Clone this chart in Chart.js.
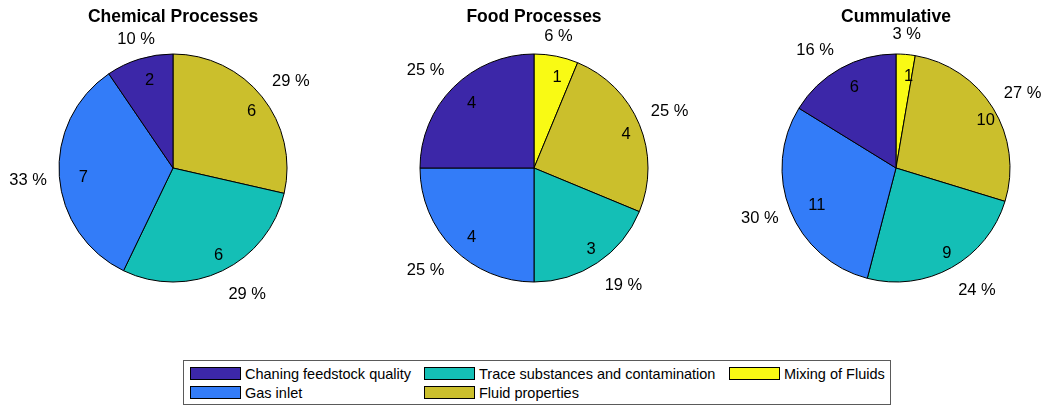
<!DOCTYPE html>
<html>
<head>
<meta charset="utf-8">
<script src="https://cdn.jsdelivr.net/npm/chart.js@4.4.1/dist/chart.umd.min.js"></script>
<style>
  html, body { margin: 0; padding: 0; background: #fff; overflow: hidden; }
  #wrap { position: relative; width: 1047px; height: 406px; overflow: hidden; font-family: "Liberation Sans", Helvetica, Arial, sans-serif; }
  #wrap canvas { position: absolute; top: 0; }
  #legend { position: absolute; left: 183px; top: 360px; width: 706px; height: 43px; border: 1px solid #5a5a5a; background: #fff; }
  .li { position: absolute; font-size: 14.5px; color: #000; white-space: nowrap; line-height: 16px; }
  .sw { position: absolute; width: 49px; height: 11px; border: 1px solid #000; }
</style>
</head>
<body>
<div id="wrap">
  <canvas id="c-chem" width="346" height="310"></canvas>
  <canvas id="c-food" width="346" height="310"></canvas>
  <canvas id="c-cum" width="346" height="310"></canvas>
  <div id="legend"></div>
</div>
<script>
// Categories in MATLAB order (pie runs counter-clockwise from 12 o'clock).
const CATEGORIES = ['Chaning feedstock quality', 'Gas inlet', 'Trace substances and contamination', 'Fluid properties', 'Mixing of Fluids'];
const COLORS = ['#3c27a8', '#337cf8', '#14bfb6', '#cbbf2c', '#f9fa14'];
const CHEMICAL = [2, 7, 6, 6, 0];
const FOOD = [4, 4, 3, 4, 1];
const CUMULATIVE = [6, 11, 9, 10, 1];
const TITLES = ['Chemical Processes', 'Food Processes', 'Cummulative'];

const FONT = '"Liberation Sans", Helvetica, Arial, sans-serif';
const CENTERS = [173, 534, 896]; // pie centre x on the page

// Chart.js draws clockwise, so feed the slices in reverse to get MATLAB's look.
const REV = [4, 3, 2, 1, 0];

// Count inside each slice, rounded percentage outside. The outside label is
// anchored at 1.1R and aligned by octant, like MATLAB's pie().
const pieLabels = {
  id: 'pieLabels',
  afterDatasetsDraw(chart) {
    const c = chart.ctx;
    const data = chart.data.datasets[0].data;
    const total = data.reduce(function (s, v) { return s + v; }, 0);
    const arcs = chart.getDatasetMeta(0).data;
    c.save();
    c.font = '16.5px ' + FONT;
    c.fillStyle = '#000';
    c.textAlign = 'center';
    c.textBaseline = 'alphabetic';
    const cap = 6; // half cap height: centre -> baseline
    arcs.forEach(function (a, i) {
      const v = data[i];
      if (!v) return;
      const p = a.getProps(['x', 'y', 'startAngle', 'endAngle', 'outerRadius'], true);
      const mid = (p.startAngle + p.endAngle) / 2;
      const dx = Math.cos(mid), dy = Math.sin(mid);
      const r = p.outerRadius;
      // count: left-aligned at 0.83R
      const n = String(v), nw = c.measureText(n).width;
      c.fillText(n, p.x + dx * r * 0.83 + nw / 2, p.y + dy * r * 0.83 + 1 + cap);
      // percentage
      const s = Math.round(100 * v / total) + ' %', hw = c.measureText(s).width / 2;
      const ax = p.x + dx * r * 1.1, ay = p.y + dy * r * 1.1;
      const tx = ax + (Math.abs(dx) < 0.38 ? 0 : Math.sign(dx) * (hw + 1));
      const ty = ay + (Math.abs(dy) < 0.38 ? 2 : (dy < 0 ? -10 : 12));
      c.fillText(s, tx, ty + cap);
    });
    c.restore();
  }
};

function makePie(id, values, title, cx) {
  const el = document.getElementById(id);
  el.style.left = (cx - 173) + 'px';
  return new Chart(el.getContext('2d'), {
    type: 'pie',
    data: {
      labels: REV.map(function (k) { return CATEGORIES[k]; }),
      datasets: [{
        data: REV.map(function (k) { return values[k]; }),
        backgroundColor: REV.map(function (k) { return COLORS[k]; }),
        borderColor: '#000',
        borderWidth: 1
      }]
    },
    options: {
      responsive: false,
      devicePixelRatio: 1,
      animation: false,
      layout: { padding: { left: 58.5, right: 58.5, top: 0, bottom: 27.5 } },
      plugins: {
        legend: { display: false },
        tooltip: { enabled: false },
        title: { display: true, text: title, color: '#000', font: { family: FONT, size: 17.5, weight: 'bold', lineHeight: 1.2 }, padding: { top: 7, bottom: 25.5 } }
      }
    },
    plugins: [pieLabels]
  });
}

makePie('c-chem', CHEMICAL, TITLES[0], CENTERS[0]);
makePie('c-food', FOOD, TITLES[1], CENTERS[1]);
makePie('c-cum', CUMULATIVE, TITLES[2], CENTERS[2]);

// Legend: 2 rows, filled column by column like MATLAB's NumColumns=3.
const LEG_COLS = [6, 240, 545];  // swatch x inside the box
const LEG_ROWS = [6, 25];        // swatch y inside the box
const legend = document.getElementById('legend');
CATEGORIES.forEach(function (name, i) {
  const col = Math.floor(i / 2), row = i % 2;
  const sw = document.createElement('div');
  sw.className = 'sw';
  sw.style.left = LEG_COLS[col] + 'px';
  sw.style.top = LEG_ROWS[row] + 'px';
  sw.style.background = COLORS[i];
  legend.appendChild(sw);
  const tx = document.createElement('div');
  tx.className = 'li';
  tx.textContent = name;
  tx.style.left = (LEG_COLS[col] + 55) + 'px';
  tx.style.top = (LEG_ROWS[row] - 1) + 'px';
  legend.appendChild(tx);
});
</script>
</body>
</html>
